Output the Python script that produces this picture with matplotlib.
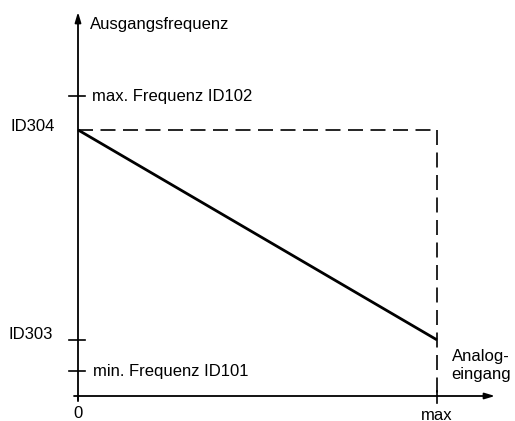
import matplotlib
matplotlib.use("Agg")
import matplotlib.pyplot as plt
from matplotlib import font_manager

# values in relative units (x: 0..max, y: 0..max. Frequenz)
x_vals = [0.0, 1.0]
x_labels = ["0", "max"]
y_id304 = 0.887
y_id303 = 0.187
y_min_freq = 0.083
y_max_freq = 1.0
line_y = [y_id304, y_id303]

names = {f.name for f in font_manager.fontManager.ttflist}
fam = "Liberation Sans Narrow" if "Liberation Sans Narrow" in names else "Liberation Sans"
plt.rcParams["font.family"] = [fam, "DejaVu Sans"]

W, H = 515, 421
fig = plt.figure(figsize=(W / 100, H / 100), dpi=100)
ax = fig.add_axes([0, 0, 1, 1])
# pixel mapping: origin at (78, 396) from top-left, x unit 359 px, y unit 300 px
ax.set_xlim(-78 / 359, (W - 78) / 359)
ax.set_ylim(-25 / 300, 396 / 300)
ax.axis("off")

px = 1 / 359
py = 1 / 300
fs = 12

# axes with arrows
ax.annotate("", xy=(0, 384 * py), xytext=(0, -4 * py),
            arrowprops=dict(arrowstyle="-|>,head_length=0.6,head_width=0.18", lw=1.3, color="black",
                            shrinkA=0, shrinkB=0))
ax.annotate("", xy=(417 * px, 0), xytext=(-4 * px, 0),
            arrowprops=dict(arrowstyle="-|>,head_length=0.6,head_width=0.18", lw=1.3, color="black",
                            shrinkA=0, shrinkB=0))

# y ticks
for yv in [y_max_freq, y_id303, y_min_freq]:
    ax.plot([-9 * px, 7 * px], [yv, yv], color="black", lw=1.2)
# x ticks
ax.plot([0, 0], [0, -5 * py], color="black", lw=1.2)
ax.plot([x_vals[1], x_vals[1]], [5 * py, -7 * py], color="black", lw=1.2)

# dashed guides
ax.plot([x_vals[0], x_vals[1]], [y_id304, y_id304], color="black", lw=1.2, dashes=(9, 4.5))
ax.plot([x_vals[1], x_vals[1]], [y_id304, 0], color="black", lw=1.2, dashes=(9, 4.5))

# characteristic line
ax.plot(x_vals, line_y, color="black", lw=2, solid_capstyle="butt")

# labels
ax.text(12 * px, 372 * py, "Ausgangsfrequenz", fontsize=fs, va="center", ha="left")
ax.text(14 * px, y_max_freq, "max. Frequenz ID102", fontsize=fs, va="center", ha="left")
ax.text(15 * px, y_min_freq, "min. Frequenz ID101", fontsize=fs, va="center", ha="left")
ax.text(-23 * px, y_id304 + 3 * py, "ID304", fontsize=fs, va="center", ha="right")
ax.text(-25 * px, y_id303 + 5 * py, "ID303", fontsize=fs, va="center", ha="right")
ax.text(x_vals[0], -18 * py, x_labels[0], fontsize=fs, va="center", ha="center")
ax.text(x_vals[1], -19 * py, x_labels[1], fontsize=fs, va="center", ha="center")
ax.text(373 * px, 31 * py, "Analog-\neingang", fontsize=fs, va="center", ha="left",
        multialignment="center", linespacing=1.25)

fig.savefig("out.png", dpi=100)
